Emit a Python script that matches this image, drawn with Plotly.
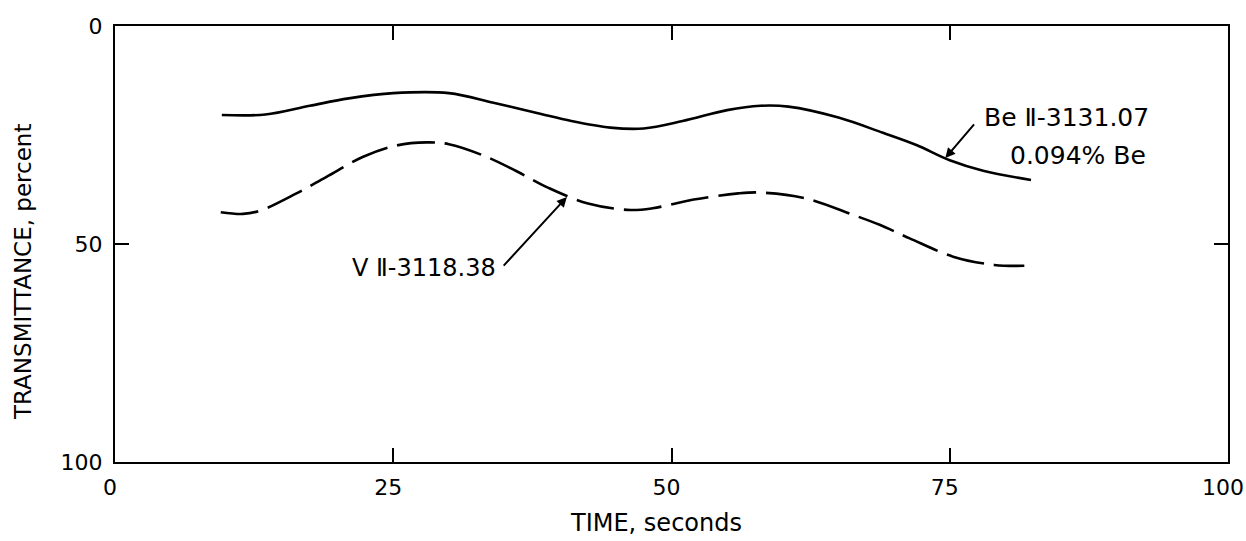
import plotly.graph_objects as go

# Be II-3131.07 (solid)
be_time = [9.6, 13.5, 17.5, 21, 25, 30, 34, 38, 41, 44.5, 47.5, 51, 55, 58, 60.5, 65, 69, 72, 75, 78, 82.3]
be_trans = [20.4, 20.3, 18.3, 16.6, 15.4, 15.4, 17.6, 20.0, 21.8, 23.3, 23.5, 21.8, 19.3, 18.3, 18.5, 21.0, 24.5, 27.3, 30.8, 33.2, 35.3]

# V II-3118.38 (dashed)
v_time = [9.5, 11.5, 13, 16.3, 19, 22.3, 25.3, 28, 30, 33, 36, 39, 42.5, 46.3, 48.3, 52, 56, 58, 62, 66.3, 68.7, 71.4, 75.3, 79, 81.7]
v_trans = [42.7, 43.1, 42.4, 38.4, 34.6, 30.0, 27.4, 26.7, 27.1, 29.6, 33.2, 37.2, 40.7, 42.2, 41.8, 39.8, 38.4, 38.2, 39.5, 43.3, 45.6, 48.7, 52.9, 54.8, 55.0]

x_ticks = [0, 25, 50, 75, 100]
y_ticks = [0, 50, 100]

FONT = "DejaVu Sans"
L, R, T, B = 115, 1228, 26, 462

fig = go.Figure()
fig.add_trace(go.Scatter(x=be_time, y=be_trans, mode="lines", line_shape="spline",
                         line=dict(color="black", width=2.6), showlegend=False))
fig.add_trace(go.Scatter(x=v_time, y=v_trans, mode="lines", line_shape="spline",
                         line=dict(color="black", width=2.6, dash="38px,10px"), showlegend=False))

fig.add_annotation(x=74.6, y=30.3, ax=77.3, ay=22.2, axref="x", ayref="y",
                   showarrow=True, arrowhead=2, arrowsize=1, arrowwidth=2, arrowcolor="black", text="")
fig.add_annotation(x=40.6, y=39.2, ax=34.8, ay=55.3, axref="x", ayref="y",
                   showarrow=True, arrowhead=2, arrowsize=1, arrowwidth=2, arrowcolor="black", text="")

fig.add_annotation(x=77.9, y=20.9, text="Be Ⅱ-3131.07", showarrow=False, xanchor="left", yanchor="middle",
                   font=dict(family=FONT, size=25, color="black"))
fig.add_annotation(x=80.2, y=29.8, text="0.094% Be", showarrow=False, xanchor="left", yanchor="middle",
                   font=dict(family=FONT, size=25, color="black"))
fig.add_annotation(x=34.4, y=55.5, text="V Ⅱ-3118.38", showarrow=False, xanchor="right", yanchor="middle",
                   font=dict(family=FONT, size=24, color="black"))

fig.add_annotation(x=(656 - L) / (R - L), y=-(523 - B) / (B - T), xref="paper", yref="paper",
                   text="TIME, seconds", showarrow=False, xanchor="center", yanchor="middle",
                   font=dict(family=FONT, size=24, color="black"))
fig.add_annotation(x=-(L - 23) / (R - L), y=1 - (272 - T) / (B - T), xref="paper", yref="paper",
                   text="TRANSMITTANCE, percent", showarrow=False, textangle=-90,
                   xanchor="center", yanchor="middle",
                   font=dict(family=FONT, size=23, color="black"))

fig.update_xaxes(range=[0, 100], tickvals=x_ticks, ticktext=[str(v) for v in x_ticks],
                 showline=True, linecolor="black", linewidth=2, mirror="ticks",
                 ticks="inside", ticklen=14, tickwidth=2, tickcolor="black",
                 showgrid=False, zeroline=False, ticklabelstandoff=5, ticklabelshift=-5,
                 ticklabeloverflow="allow", automargin=False,
                 tickfont=dict(family=FONT, size=22, color="black"))
fig.update_yaxes(range=[100, 0], tickvals=y_ticks, ticktext=[str(v) for v in y_ticks],
                 showline=True, linecolor="black", linewidth=2, mirror="ticks",
                 ticks="inside", ticklen=14, tickwidth=2, tickcolor="black",
                 showgrid=False, zeroline=False, ticklabelstandoff=6,
                 ticklabeloverflow="allow", automargin=False,
                 tickfont=dict(family=FONT, size=22, color="black"))

fig.update_layout(width=1246, height=541, autosize=False,
                  margin=dict(l=L, r=1246 - R, t=T, b=541 - B, autoexpand=False),
                  paper_bgcolor="white", plot_bgcolor="white")

fig.write_html("out.html", config={"responsive": False, "displayModeBar": False},
               post_script="document.body.style.margin='0';document.documentElement.style.overflow='hidden';")
